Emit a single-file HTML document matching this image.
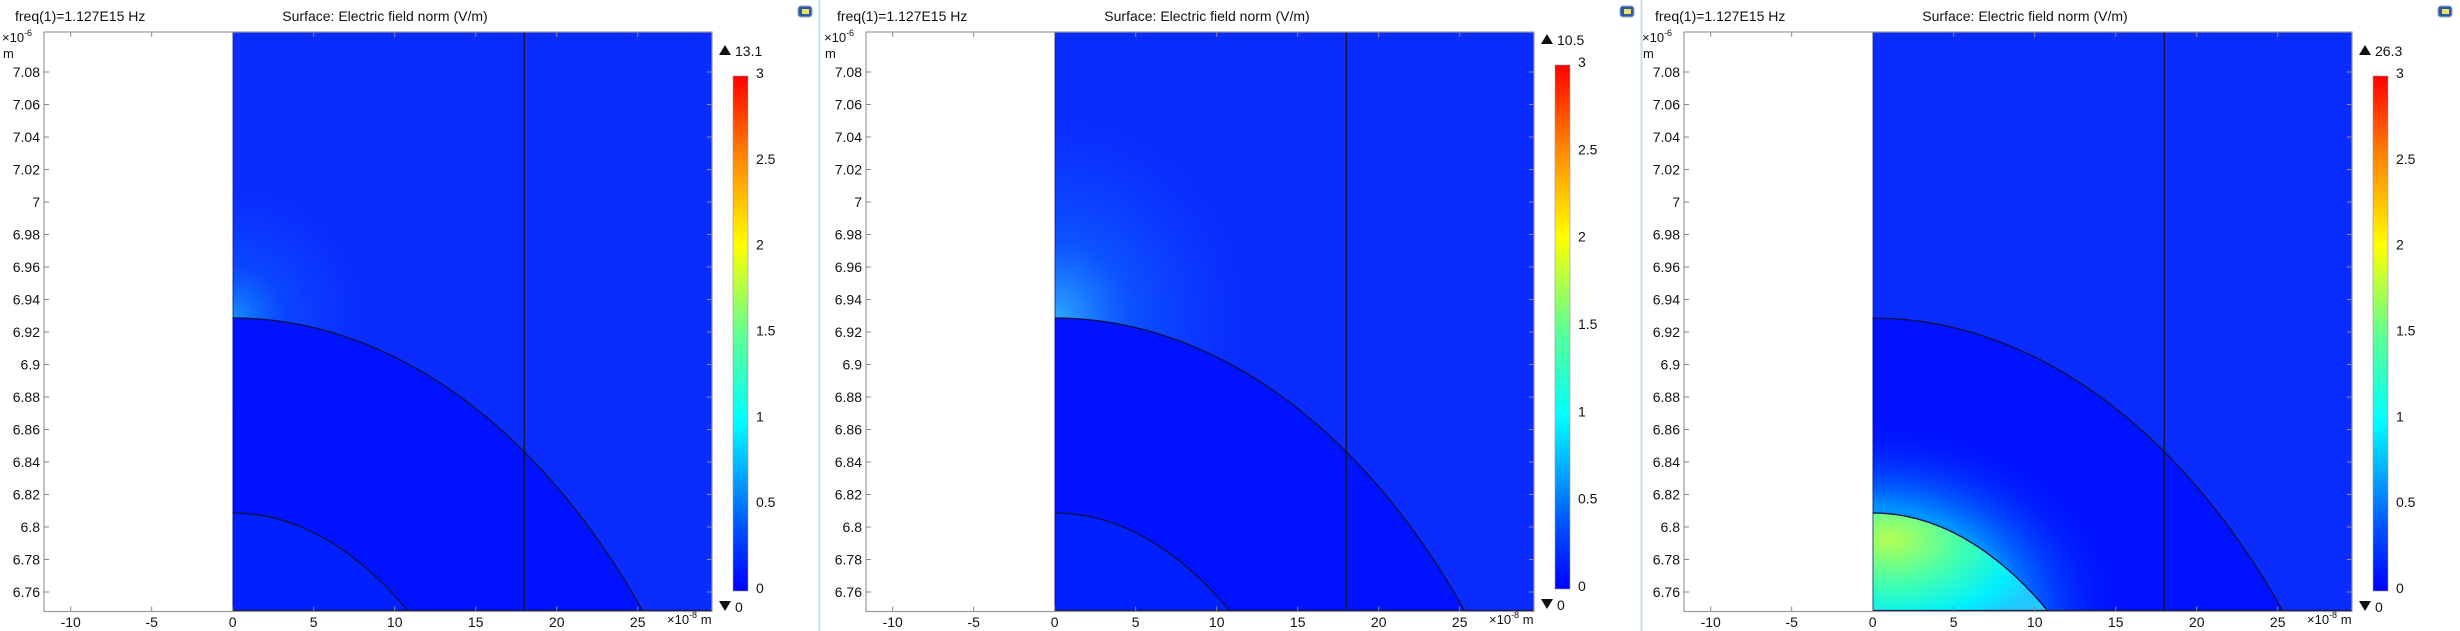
<!DOCTYPE html>
<html><head><meta charset="utf-8"><style>
html,body{margin:0;padding:0;background:#fff;overflow:hidden;width:2460px;height:631px;}
svg{display:block;}
svg text{font-family:"Liberation Sans","DejaVu Sans",sans-serif;fill:#111;}
</style></head><body>
<svg id="fig" width="2460" height="631" viewBox="0 0 2460 631" xmlns="http://www.w3.org/2000/svg">
<defs>
<linearGradient id="jet" x1="0" y1="1" x2="0" y2="0">
<stop offset="0" stop-color="#0000ff"/><stop offset="0.12" stop-color="#0050ff"/>
<stop offset="0.33" stop-color="#00ffff"/><stop offset="0.5" stop-color="#60ff90"/>
<stop offset="0.67" stop-color="#ffff00"/><stop offset="0.85" stop-color="#ff8000"/>
<stop offset="1" stop-color="#ff0000"/></linearGradient>
<radialGradient id="glow1" cx="0.5" cy="0.5" r="0.5"><stop offset="0" stop-color="#1a9cff" stop-opacity="0.9"/><stop offset="0.4" stop-color="#0a70ff" stop-opacity="0.4"/><stop offset="1" stop-color="#0a60ff" stop-opacity="0"/></radialGradient>
<radialGradient id="glow2" cx="0.5" cy="0.5" r="0.5"><stop offset="0" stop-color="#30b0ff" stop-opacity="0.95"/><stop offset="0.4" stop-color="#1080ff" stop-opacity="0.45"/><stop offset="1" stop-color="#0a60ff" stop-opacity="0"/></radialGradient>
<radialGradient id="disk" cx="0.1" cy="0.35" r="0.9"><stop offset="0" stop-color="#b4ff50"/><stop offset="0.45" stop-color="#40ffb0"/><stop offset="0.8" stop-color="#00f0ff"/><stop offset="1" stop-color="#20c8ff"/></radialGradient>
<radialGradient id="halo" cx="0.5" cy="0.5" r="0.5"><stop offset="0.55" stop-color="#00a0ff" stop-opacity="0.9"/><stop offset="0.75" stop-color="#0060ff" stop-opacity="0.5"/><stop offset="1" stop-color="#0018ff" stop-opacity="0"/></radialGradient>
</defs>
</svg>
<script>
const yTicks=[7.08,7.06,7.04,7.02,7,6.98,6.96,6.94,6.92,6.9,6.88,6.86,6.84,6.82,6.8,6.78,6.76];
const yTickLabels=["7.08","7.06","7.04","7.02","7","6.98","6.96","6.94","6.92","6.9","6.88","6.86","6.84","6.82","6.8","6.78","6.76"];
const xTicks=[-10,-5,0,5,10,15,20,25];
const cbTicks=[0,0.5,1,1.5,2,2.5,3];
const maxVals=["13.1","10.5","26.3"];
const minVals=["0","0","0"];
const NS="http://www.w3.org/2000/svg";
const svg=document.getElementById('fig');
function mk(tag,attrs,parent,txt){const e=document.createElementNS(NS,tag);for(const k in attrs)e.setAttribute(k,attrs[k]);if(txt!==undefined)e.textContent=txt;parent.appendChild(e);return e;}
const X=v=>232.7+v*16.2, Y=v=>72+(7.08-v)/0.02*32.5;
const L=44,T=32,R=712,B=611.5;
const cbTop=[76,65,76], cbBot=[591,589,591];
const offs=[0,822,1640];
offs.forEach((ox,i)=>{
 const cbY=v=>cbBot[i]-(v/3)*(cbBot[i]-cbTop[i]);
 const g=mk('g',{transform:`translate(${ox},0)`},svg);
 
 
 const cid='clip'+i;
 const cp=mk('clipPath',{id:cid},g);mk('rect',{x:X(0),y:T,width:R-X(0),height:B-T},cp);
 const cp2=mk('clipPath',{id:cid+'d'},g);mk('ellipse',{cx:X(0),cy:1200,rx:340,ry:687},cp2);
 const f=mk('g',{'clip-path':`url(#${cid})`},g);
 
 
 mk('rect',{x:X(0),y:T,width:R-X(0),height:B-T,fill:'#0a2cff'},f);
 if(i<2){mk('ellipse',{cx:X(0),cy:318,rx:i?190:130,ry:i?200:130,fill:`url(#glow${i+1})`},f);}
 mk('ellipse',{cx:X(0),cy:1200,rx:551,ry:882,fill:'#0012ff'},f);
 if(i<2){mk('ellipse',{cx:X(0),cy:1200,rx:340,ry:687,fill:'#0020ff'},f);}
 else{mk('ellipse',{cx:X(0),cy:B,rx:250,ry:190,fill:'url(#halo)'},f);
  mk('rect',{x:X(0),y:500,width:180,height:112,fill:'url(#disk)','clip-path':`url(#${cid}d)`},f);}
 mk('ellipse',{cx:X(0),cy:1200,rx:551,ry:882,fill:'none',stroke:'#101040','stroke-width':1.3},f);
 mk('ellipse',{cx:X(0),cy:1200,rx:340,ry:687,fill:'none',stroke:'#101040','stroke-width':1.3},f);
 mk('line',{x1:X(18),y1:T,x2:X(18),y2:B,stroke:'#101040','stroke-width':1.3},f);
 mk('line',{x1:X(0),y1:T,x2:X(0),y2:B,stroke:'#101040','stroke-width':1.3},f);
 mk('line',{x1:X(0),y1:B-1,x2:R,y2:B-1,stroke:'#101040','stroke-width':1.3},f);
 const fr=mk('rect',{x:L,y:T,width:R-L,height:B-T,fill:'none',stroke:'#999','stroke-width':1.2},g);
 
 
 yTicks.forEach((v,k)=>{const y=Y(v);
  mk('line',{x1:L,y1:y,x2:L+5,y2:y,stroke:'#888'},g);mk('line',{x1:R-5,y1:y,x2:R,y2:y,stroke:'#888'},g);
  const t=mk('text',{x:40,y:y+5,'font-size':14,'text-anchor':'end'},g,yTickLabels[k]);
  
  });
 xTicks.forEach(v=>{const x=X(v);
  mk('line',{x1:x,y1:B-5,x2:x,y2:B,stroke:'#888'},g);mk('line',{x1:x,y1:T,x2:x,y2:T+5,stroke:'#888'},g);
  const t=mk('text',{x:x,y:627,'font-size':14,'text-anchor':'middle'},g,String(v));
  
  });
 const xu=mk('text',{x:667,y:624,'font-size':13},g);xu.innerHTML='×10<tspan font-size="9" dy="-6">-8</tspan><tspan dy="6"> m</tspan>';
 
 
 const yu=mk('text',{x:2,y:42,'font-size':13},g);yu.innerHTML='×10<tspan font-size="9" dy="-6">-6</tspan>';
 
 
 mk('text',{x:3,y:58,'font-size':13},g,'m');
 const t1=mk('text',{x:15,y:21,'font-size':14},g,'freq(1)=1.127E15 Hz');
 
 
 const t2=mk('text',{x:385,y:21,'font-size':14,'text-anchor':'middle'},g,'Surface: Electric field norm (V/m)');
 
 
 const cb=mk('rect',{x:733,y:cbY(3),width:15,height:cbY(0)-cbY(3),fill:'url(#jet)',stroke:'#999','stroke-width':0.6},g);
 
 
 cbTicks.forEach(v=>{const t=mk('text',{x:756,y:cbY(v)+2,'font-size':14},g,String(v));
  
  });
 const ty=cbTop[i]-26;
 mk('path',{d:`M719 ${ty+5} L731 ${ty+5} L725 ${ty-5} Z`,fill:'#111'},g);
 const mx=mk('text',{x:735,y:ty+6,'font-size':14},g,maxVals[i]);
 
 
 const by=cbBot[i]+15;
 mk('path',{d:`M719 ${by-5} L731 ${by-5} L725 ${by+5} Z`,fill:'#111'},g);
 const mn=mk('text',{x:735,y:by+6,'font-size':14},g,minVals[i]);
 
 
 const ic=mk('rect',{x:798,y:6,width:14,height:11,rx:3,fill:'#2a5aa8',stroke:'#9ab','stroke-width':1},g);
 
 
 mk('rect',{x:802,y:9,width:7,height:5,fill:'#e8e070'},g);
 if(i<2){const d=mk('line',{x1:819.5,y1:0,x2:819.5,y2:631,stroke:'#c8dcec','stroke-width':2},g);
  
  }
});
</script>
</body></html>
